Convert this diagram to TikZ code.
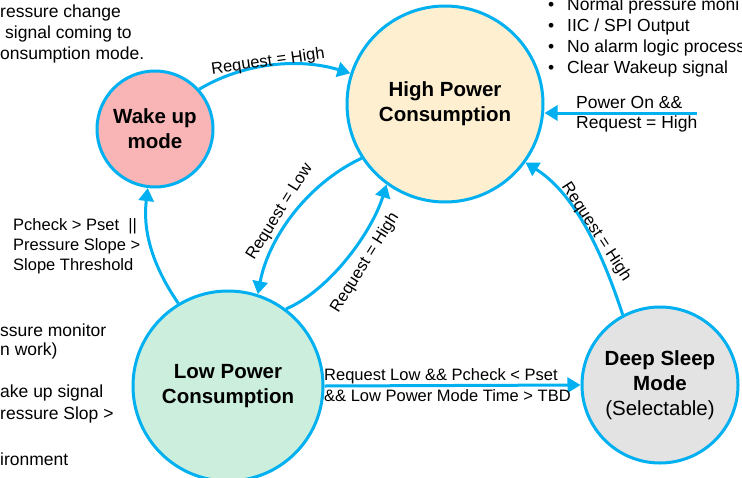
\documentclass[tikz,border=0pt]{standalone}
\usepackage{fontspec}
\setmainfont{Liberation Sans}
\usetikzlibrary{arrows.meta}
\definecolor{lineblue}{RGB}{0,176,240}
\definecolor{wakefill}{RGB}{249,181,181}
\definecolor{highfill}{RGB}{253,239,208}
\definecolor{lowfill}{RGB}{204,238,220}
\definecolor{deepfill}{RGB}{227,227,227}
\tikzset{
  state/.style={circle, draw=lineblue, line width=3pt, align=center, inner sep=0pt,
    font=\fontsize{20.5}{25}\selectfont\bfseries},
  arr/.style={draw=lineblue, line width=3pt, -{Triangle[length=13pt,width=15pt]}},
  elabel/.style={font=\fontsize{16.5}{20}\selectfont, inner sep=0pt},
  side/.style={font=\fontsize{17.5}{21}\selectfont, inner sep=0pt, anchor=west},
  cond/.style={font=\fontsize{16.5}{20}\selectfont, inner sep=0pt, anchor=west},
}
\begin{document}
\begin{tikzpicture}[x=1pt,y=-1pt]
\clip (0,0) rectangle (742,477);
\fill[white] (0,0) rectangle (742,477);

% states
\node[state, fill=wakefill, minimum size=116pt] (wake) at (155,129) {Wake up\\mode};
\node[state, fill=highfill, minimum size=196pt] (high) at (445,104) {High Power\\Consumption};
\node[state, fill=lowfill, minimum size=190pt] (low) at (228,386) {Low Power\\Consumption};
\node[state, fill=deepfill, minimum size=156pt] (deep) at (660,385) {Deep Sleep\\Mode\\\mdseries(Selectable)};

% transitions
\draw[arr] (wake.42) .. controls (245,62) and (300,58) .. (high.162);
\node[elabel, rotate=8] (l1) at (268,62) {Request = High};

\draw[arr] (low.121) .. controls (150,262) and (143,228) .. (wake.263);
\node[cond] (c1) at (13,226) {Pcheck > Pset\ \ ||};
\node[cond] (c2) at (13,246) {Pressure Slope >};
\node[cond] (c3) at (13,266) {Slope Threshold};

\draw[arr] (high.213) .. controls (305,185) and (268,240) .. (low.72);
\node[elabel, rotate=58] (l2) at (280,212) {Request = Low};

\draw[arr] (low.53) .. controls (330,290) and (372,232) .. (high.234);
\node[elabel, rotate=58] (l3) at (365,263) {Request = High};

\draw[arr] (deep.118) .. controls (600,245) and (572,192) .. (high.324);
\node[elabel, rotate=-57] (l4) at (596,232) {Request = High};

\draw[arr] (low.east) -- (deep.west);
\node[cond] (l5a) at (324,376) {Request Low \&\& Pcheck < Pset};
\node[cond] (l5b) at (324,396) {\&\& Low Power Mode Time > TBD};

\coordinate (pwr) at (697,113);
\draw[arr] (pwr) -- (pwr -| high.east);
\node[side] (p1) at (576,102) {Power On \&\&};
\node[side] (p2) at (576,124) {Request = High};

% top-right bullets
\node[side] (b1) at (567,6) {Normal pressure moni};
\node[side] (b2) at (567,27) {IIC / SPI Output};
\node[side] (b3) at (567,48) {No alarm logic process};
\node[side] (b4) at (567,69) {Clear Wakeup signal};
\foreach \yy/\nm in {6/d1,27/d2,48/d3,69/d4}
  \node[side] (\nm) at (548,\yy) {\textbullet};

% top-left text
\node[side] (t1) at (0,13) {ressure change};
\node[side] (t2) at (5,34) {signal coming to};
\node[side] (t3) at (0,55) {onsumption mode.};

% bottom-left text
\node[side] (s1) at (0,330) {ssure monitor};
\node[side] (s2) at (0,351) {n work)};
\node[side] (s3) at (0,393) {ake up signal};
\node[side] (s4) at (0,415) {ressure Slop >};
\node[side] (s5) at (0,459) {ironment};
\end{tikzpicture}
\end{document}
